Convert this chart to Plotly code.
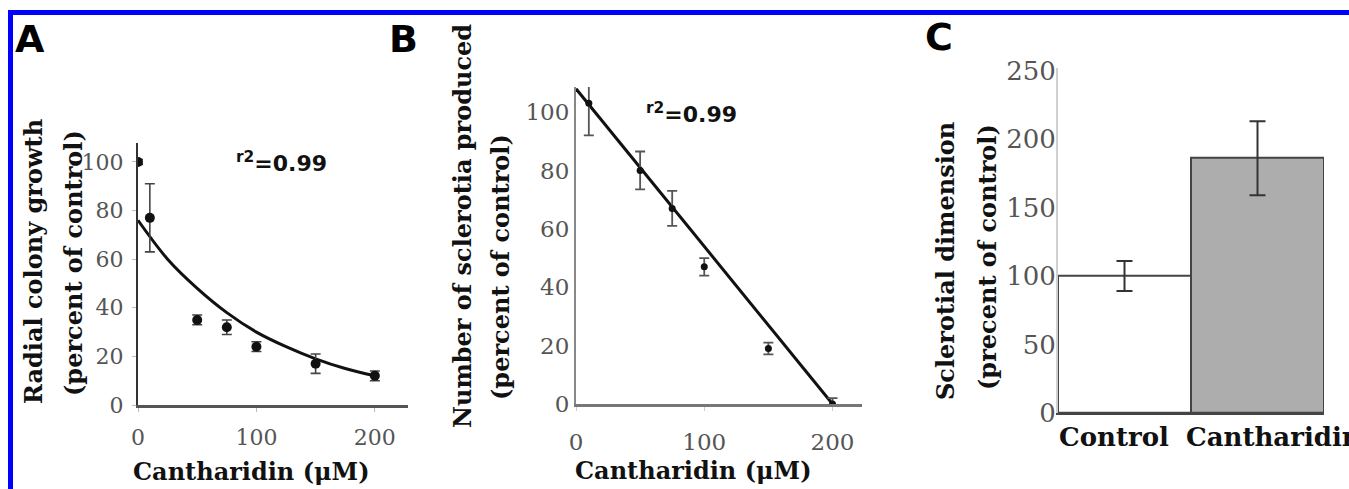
import plotly.graph_objects as go

W, H = 1349, 489

# ---------------- data ----------------
# Panel A: radial colony growth
a_x = [0, 10, 50, 75, 100, 150, 200]
a_y = [100, 77, 35, 32, 24, 17, 12]
a_err = [1, 14, 2, 3, 2, 4, 2]
a_fit_x = [0, 25, 50, 75, 100, 125, 150, 175, 200]
a_fit_y = [76, 60, 48, 38, 30, 24, 19, 15, 12]

# Panel B: number of sclerotia
b_x = [10, 50, 75, 100, 150, 200]
b_y = [103, 80, 67, 47, 19, 0]
b_err = [11, 6.5, 6, 3, 2, 2]
b_fit_x = [0, 200]
b_fit_y = [108, 0]

# Panel C: sclerotial dimension
c_cats = ["Control", "Cantharidin"]
c_vals = [100, 186]
c_err = [11, 27]
c_fill = ["#ffffff", "#adadad"]

a_yticks = [0, 20, 40, 60, 80, 100]
a_xticks = [0, 100, 200]
b_yticks = [0, 20, 40, 60, 80, 100]
b_xticks = [0, 100, 200]
c_yticks = [0, 50, 100, 150, 200, 250]

SERIF = "DejaVu Serif"
SANS = "DejaVu Sans"


def px(x):
    return x / W


def py(y):
    return 1 - y / H


fig = go.Figure()

# Panel A
fig.add_trace(go.Scatter(
    x=a_fit_x, y=a_fit_y, mode="lines", line=dict(color="#111", width=3, shape="spline"),
    xaxis="x", yaxis="y", showlegend=False, hoverinfo="skip"))
fig.add_trace(go.Scatter(
    x=a_x, y=a_y, mode="markers", marker=dict(color="#111", size=10),
    error_y=dict(type="data", array=a_err, color="#444", thickness=1.6, width=5),
    xaxis="x", yaxis="y", showlegend=False))

# Panel B
fig.add_trace(go.Scatter(
    x=b_fit_x, y=b_fit_y, mode="lines", line=dict(color="#111", width=3),
    xaxis="x2", yaxis="y2", showlegend=False, hoverinfo="skip"))
fig.add_trace(go.Scatter(
    x=b_x, y=b_y, mode="markers", marker=dict(color="#111", size=7),
    error_y=dict(type="data", array=b_err, color="#555", thickness=1.8, width=5),
    xaxis="x2", yaxis="y2", showlegend=False))

# Panel C
fig.add_trace(go.Bar(
    x=c_cats, y=c_vals, width=1,
    marker=dict(color=c_fill, line=dict(color="#444", width=2)),
    error_y=dict(type="data", array=c_err, color="#333", thickness=2, width=8),
    xaxis="x3", yaxis="y3", showlegend=False))

tick_a = dict(family=SERIF, size=22, color="#555")
tick_b = dict(family=SERIF, size=23, color="#555")
tick_c = dict(family=SERIF, size=26, color="#555")

common = dict(showgrid=False, zeroline=False, showline=True, automargin=False)

fig.update_layout(
    template="none",
    width=W, height=H, autosize=False,
    margin=dict(l=0, r=0, t=0, b=0, pad=0),
    paper_bgcolor="white", plot_bgcolor="white",
    bargap=0, showlegend=False,
    xaxis=dict(domain=[px(138), px(408)], range=[0, 228], tickvals=a_xticks,
               linecolor="#555", linewidth=2.5,
               ticks="outside", ticklen=4, tickcolor="#bbb", tickfont=tick_a,
               ticklabelstandoff=7, anchor="y", **common),
    yaxis=dict(domain=[py(405), py(142.5)], range=[0, 108], tickvals=a_yticks,
               linecolor="#333", linewidth=2,
               ticks="outside", ticklen=4, tickcolor="#bbb", tickfont=tick_a,
               ticklabelstandoff=4, anchor="x", **common),
    xaxis2=dict(domain=[px(576), px(862)], range=[0, 223], tickvals=b_xticks,
                linecolor="#777", linewidth=2.5,
                ticks="outside", ticklen=4, tickcolor="#ccc", tickfont=tick_b,
                ticklabelstandoff=12, anchor="y2", **common),
    yaxis2=dict(domain=[py(404), py(87)], range=[0, 108.6], tickvals=b_yticks,
                linecolor="#888", linewidth=2,
                ticks="", tickfont=tick_b, ticklabelstandoff=0, anchor="x2", **common),
    xaxis3=dict(domain=[px(1058), px(1324)], range=[-0.5, 1.5], type="category",
                linecolor="#444", linewidth=2, tickangle=0, showticklabels=False,
                ticks="", anchor="y3", **common),
    yaxis3=dict(domain=[py(413), py(67.8)], range=[0, 252], tickvals=c_yticks,
                linecolor="#d0d0d0", linewidth=2,
                ticks="", tickfont=tick_c, ticklabelstandoff=-5, anchor="x3", **common),
)

title_font = dict(family=SERIF, size=24, color="#111", weight="bold")
cat_font = dict(family=SERIF, size=26, color="#111", weight="bold")
letter_font = dict(family=SANS, size=38, color="#000", weight="bold")
r2_font = dict(family=SANS, size=22, color="#111", weight="bold")

ann = []


def add_text(text, x, y, font, angle=0, xanchor="center"):
    ann.append(dict(text=text, x=px(x), y=py(y), xref="paper", yref="paper",
                    xanchor=xanchor, yanchor="middle", showarrow=False,
                    font=font, textangle=angle))


# panel letters
add_text("A", 30, 39, letter_font)
add_text("B", 403, 39, letter_font)
add_text("C", 939, 37, letter_font)

# panel A titles
add_text("Radial colony growth", 33, 262, title_font, -90)
add_text("(percent of control)", 73, 263, title_font, -90)
add_text("Cantharidin (\u03bcM)", 251, 471, title_font)
add_text("<sup>r2</sup>=0.99", 281, 162, r2_font)

# panel B titles
add_text("Number of sclerotia produced", 462, 226, title_font, -90)
add_text("(percent of control)", 500, 267, title_font, -90)
add_text("Cantharidin (\u03bcM)", 694, 470, title_font)
add_text("<sup>r2</sup>=0.99", 691, 113, r2_font)

# panel C titles and category labels
add_text("Sclerotial dimension", 945, 261, title_font, -90)
add_text("(precent of control)", 987, 257, title_font, -90)
add_text(c_cats[0], 1114, 437, cat_font)
add_text(c_cats[1], 1184, 437, cat_font, xanchor="left")

fig.update_layout(annotations=ann)

# blue frame (top and left edges)
fig.add_shape(type="line", xref="paper", yref="paper", x0=px(8), x1=1, y0=py(12.5), y1=py(12.5),
              line=dict(color="#0000ff", width=5))
fig.add_shape(type="line", xref="paper", yref="paper", x0=px(10.5), x1=px(10.5), y0=py(10), y1=0,
              line=dict(color="#0000ff", width=5))

fig.write_html("out.html", config={"displayModeBar": False},
               post_script="document.body.style.margin='0px';document.body.style.overflow='hidden';")
